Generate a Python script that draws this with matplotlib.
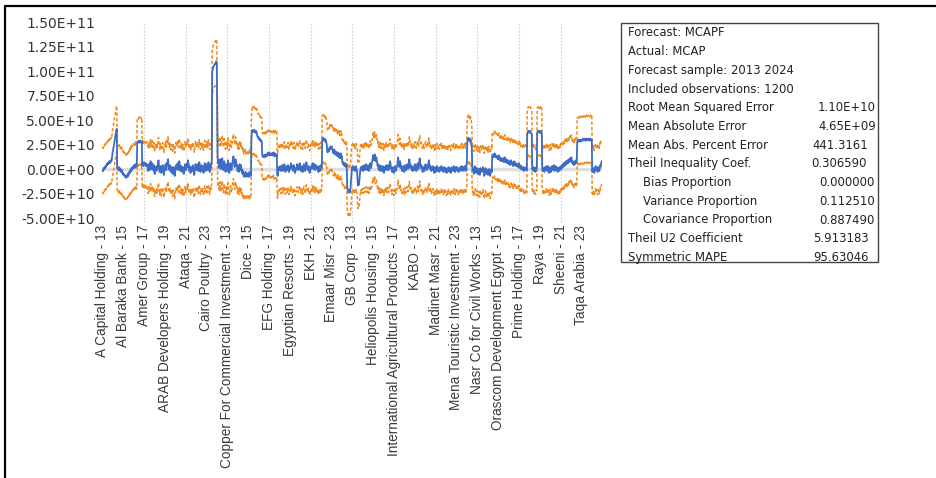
import numpy as np
import matplotlib
matplotlib.use("Agg")
import matplotlib.pyplot as plt
from matplotlib.lines import Line2D
from matplotlib.patches import Rectangle

# forecast MCAPF per company (12 yearly obs, 2013-2024), in billions
forecast_bn = [
    [-2, -1, -2, 0, 1, 0, 2, 1, 3, 2, 4, 5],
    [4, 6, 5, 7, 6, 8, 7, 6, 8, 9, 8, 10],
    [14, 17, 19, 22, 24, 27, 29, 32, 35, 37, 40, 41],
    [2, 0, 1, -1, 0, 2, -1, -2, 0, -3, -2, -1],
    [-3, -5, -4, -6, -5, -7, -6, -8, -7, -9, -8, -7],
    [-6, -8, -5, -4, -6, -3, -2, -4, -1, 0, -2, 1],
    [0, 2, 1, 3, 2, 4, 1, 3, 5, 2, 4, 3],
    [26, 27, 28, 27, 29, 28, 27, 28, 29, 28, 27, 28],
    [4, 6, 3, 5, 7, 4, 6, 5, 3, 6, 4, 5],
    [3, 1, -2, 2, 5, 1, -1, 3, 8, 4, 0, 2],
    [6, 3, -1, 1, 4, -3, -5, 0, 2, -2, 1, 3],
    [-1, 2, 5, 9, 4, 1, -3, 0, 3, -1, -4, -2],
    [1, 4, 2, -2, -6, -3, 0, 2, 5, 1, -1, 3],
    [7, 4, 10, 5, 2, -1, 1, 4, 0, -3, -1, 2],
    [-2, -5, -1, 2, 0, -4, -7, -3, 1, 4, 2, 0],
    [3, 6, 2, -1, 4, 8, 5, 1, -2, 0, 3, 1],
    [-3, 0, 2, -1, -5, -2, 1, 5, 2, -1, 1, 4],
    [6, 2, 9, 5, 1, -2, 3, 0, -4, -1, 2, 0],
    [-2, 1, 4, 0, -3, -6, -2, 2, 5, 3, 0, -1],
    [2, 5, 1, -2, 3, 7, 4, 0, -3, 1, 4, 2],
    [-1, 3, 0, -4, -2, 2, 6, 3, 0, -2, 1, 5],
    [2, -1, 4, 7, 3, 0, -3, 1, 5, 2, 6, 8],
    [100, 101, 103, 104, 105, 106, 107, 107, 108, 109, 110, 108],
    [53, 12, 6, 9, 3, 1, 5, 10, 4, 0, 3, 7],
    [11, 6, 2, -1, 3, 8, 4, 1, -3, 0, 5, 2],
    [-2, 3, 9, 5, 1, -4, -1, 2, 6, 3, -1, 1],
    [4, 8, 12, 13, 9, 5, 2, 6, 10, 7, 3, 5],
    [1, -2, 3, 0, -3, 2, 5, 1, -1, 4, 0, -3],
    [-1, -5, -2, -6, -8, -4, -7, -5, -3, -6, -8, -7],
    [-5, -7, -4, -6, -8, -6, -3, -5, -7, -6, 30, 37],
    [39, 38, 40, 39, 38, 40, 39, 37, 38, 39, 38, 37],
    [34, 33, 32, 33, 31, 30, 31, 29, 30, 28, 29, 28],
    [15, 13, 14, 12, 13, 14, 12, 13, 15, 13, 14, 13],
    [15, 16, 14, 17, 15, 14, 16, 15, 14, 16, 15, 14],
    [16, 14, 15, 17, 15, 13, 14, 16, 15, 14, 13, 15],
    [-5, -7, -3, 0, 2, -1, 1, 3, 0, -2, 1, 2],
    [4, 1, -2, 0, 3, 5, 2, -1, -3, 1, 3, 0],
    [-1, 2, 4, 1, -3, -1, 2, 0, 3, 6, 4, 1],
    [3, 0, -2, 1, 4, 2, -1, -4, -2, 1, 0, 2],
    [5, 3, 1, -1, 2, 4, 6, 3, 0, -2, 1, 3],
    [0, -3, -1, 2, 5, 2, 0, -2, 1, 4, 7, 4],
    [2, -1, 1, 3, 0, -2, -4, -1, 2, 0, 3, 1],
    [4, 6, 2, 0, 3, 5, 1, -1, 2, 4, 1, 3],
    [0, 2, -1, -3, 1, 3, 0, -2, 2, 4, 1, 2],
    [30, 31, 32, 31, 30, 29, 31, 30, 28, 29, 27, 25],
    [18, 17, 19, 20, 18, 21, 22, 20, 23, 22, 21, 23],
    [21, 19, 18, 16, 19, 20, 17, 15, 18, 16, 14, 17],
    [15, 13, 17, 14, 12, 16, 13, 11, 14, 16, 12, 13],
    [8, 6, 5, 7, 4, 5, 3, 6, 4, 2, 5, 3],
    [-18, -20, -22, -24, -23, -21, -24, -22, -20, -12, -6, -2],
    [2, 0, 3, 1, -1, 2, 0, -2, 1, 3, 0, -1],
    [-4, -12, -17, -15, -16, -13, -8, -3, 0, 2, -1, 1],
    [3, 0, -2, 1, 4, 2, -1, 1, 3, 5, 2, 0],
    [-1, 2, 4, 1, -2, 0, 3, 6, 4, 1, 3, 5],
    [8, 11, 14, 12, 9, 13, 15, 11, 8, 10, 12, 9],
    [6, 3, 5, 1, -1, 2, 4, 0, -2, 1, 3, 0],
    [-2, 1, 3, -1, -4, 0, 2, -1, 1, 4, 2, -1],
    [1, 4, 2, -1, 0, 3, 6, 8, 5, 2, 0, 1],
    [-3, 0, 2, -1, -4, -2, 1, 3, 0, -2, 1, 2],
    [4, 7, 12, 9, 5, 2, 4, 8, 5, 1, 3, 0],
    [-2, 1, -1, 3, 0, -3, 1, 4, 2, -1, 0, 2],
    [5, 3, 0, 2, 6, 10, 7, 3, 1, 4, 2, -1],
    [1, -2, 0, 3, 1, -1, 2, 5, 3, 0, -2, 1],
    [3, 6, 2, 0, 4, 7, 11, 6, 3, 1, 4, 2],
    [0, -3, -1, 2, 0, -2, 1, 3, 5, 2, 0, -1],
    [2, 4, 1, 6, 9, 5, 2, 0, 3, 1, -2, 0],
    [-1, 1, 3, 0, -2, -4, -1, 2, 0, -3, -1, 1],
    [3, 0, -2, 1, -1, -3, 0, 2, -1, 1, 3, 0],
    [-2, 1, 0, -3, -1, 2, 0, -2, 1, -1, -4, -2],
    [0, -3, -1, 2, 0, -2, 1, -1, -4, -2, 0, 2],
    [-1, 1, -2, 0, 3, 1, -1, -3, 0, 2, -1, 1],
    [2, -1, 0, -3, -1, 1, -2, 0, 2, -1, 1, 3],
    [0, -2, 1, -1, 2, 0, 3, 1, -2, 0, 4, 6],
    [26, 30, 31, 32, 30, 29, 31, 28, 30, 27, 25, 22],
    [4, -1, 1, -3, -5, -2, 0, 3, 1, -2, -4, -1],
    [1, -2, -5, -3, 0, -4, -6, -2, 1, -1, -3, 0],
    [-2, 0, 2, -1, -4, -7, -3, -1, 1, -2, -5, -3],
    [-1, -4, -6, -2, 0, -3, -5, -7, -4, -2, 0, -3],
    [13, 15, 14, 12, 13, 15, 16, 13, 12, 14, 13, 12],
    [11, 13, 10, 12, 14, 11, 9, 12, 10, 8, 11, 9],
    [10, 8, 11, 9, 7, 10, 12, 9, 7, 8, 10, 8],
    [6, 8, 9, 7, 5, 8, 6, 4, 7, 9, 6, 5],
    [7, 5, 3, 6, 8, 5, 4, 7, 6, 3, 5, 4],
    [3, 5, 2, 4, 6, 3, 1, 4, 2, 0, 3, 1],
    [1, -1, 0, 2, -2, 0, 1, -1, 0, 2, 0, -1],
    [36, 37, 38, 39, 38, 37, 38, 39, 38, 37, 36, 35],
    [1, -1, 0, 2, -2, 0, 1, -1, -3, 0, 2, 1],
    [37, 38, 39, 38, 39, 38, 37, 39, 38, 37, 38, 36],
    [2, 0, -2, 1, -1, -3, 0, 2, -1, 1, 3, 0],
    [-2, 1, 3, 0, -2, -4, -1, 2, 0, -3, -1, 1],
    [3, 0, -1, 2, 4, 1, -2, 0, 3, 1, -1, 2],
    [0, -3, -1, 1, -2, 0, 2, -1, 1, 3, 0, 2],
    [3, 5, 2, 4, 6, 3, 5, 7, 4, 6, 8, 5],
    [7, 9, 6, 8, 10, 7, 9, 11, 8, 10, 12, 9],
    [6, 8, 5, 7, 4, 6, 8, 5, 7, 9, 6, 8],
    [28, 29, 28, 30, 29, 28, 29, 30, 29, 28, 29, 30],
    [29, 30, 31, 30, 29, 30, 31, 30, 29, 30, 31, 30],
    [30, 29, 31, 30, 31, 30, 29, 30, 31, 30, 29, 30],
    [-2, 0, -3, 1, -1, -4, -2, 0, 3, 1, -1, 2],
    [0, -3, -1, 2, 0, -2, 1, 4, 2, 5, 7, 8],
]

# forecast standard error per company, in billions
se_bn = [
    11.6, 11.5, 11.8, 11.4, 11.5, 11.6, 11.5, 12.0, 11.5, 11.4,
    11.5, 11.6, 11.5, 11.4, 11.6, 11.5, 11.5, 11.4, 11.6, 11.5,
    11.5, 11.4, 11.3, 11.5, 11.6, 11.5, 11.4, 11.5, 11.6, 11.5,
    12.0, 12.0, 11.6, 11.5, 11.7, 11.5, 11.4, 11.5, 11.6, 11.5,
    11.5, 11.4, 11.5, 11.6, 11.8, 11.6, 11.5, 11.5, 11.4, 12.4,
    11.5, 11.6, 11.5, 11.4, 11.5, 11.6, 11.5, 11.4, 11.5, 11.6,
    11.5, 11.4, 11.5, 11.6, 11.5, 11.4, 11.5, 11.6, 11.5, 11.4,
    11.5, 11.6, 11.5, 11.6, 11.5, 11.4, 11.5, 11.6, 11.5, 11.4,
    11.5, 11.6, 11.5, 11.4, 11.5, 12.3, 11.5, 12.3, 11.5, 11.4,
    11.5, 11.6, 11.5, 11.4, 11.5, 12.0, 12.0, 12.0, 11.5, 11.6,
]

tick_obs = list(range(1, 1200, 50))
tick_labels = [
    "A Capital Holding - 13", "Al Baraka Bank - 15", "Amer Group - 17",
    "ARAB Developers Holding - 19", "Ataqa - 21", "Cairo Poultry - 23",
    "Copper For Commercial Investment - 13", "Dice - 15", "EFG Holding - 17",
    "Egyptian Resorts - 19", "EKH - 21", "Emaar Misr - 23", "GB Corp - 13",
    "Heliopolis Housing - 15", "International Agricultural Products - 17",
    "KABO - 19", "Madinet Masr - 21", "Mena Touristic Investment - 23",
    "Nasr Co for Civil Works - 13", "Orascom Development Egypt - 15",
    "Prime Holding - 17", "Raya - 19", "Sheeni - 21", "Taqa Arabia - 23",
]
ytick_vals = [-5e10, -2.5e10, 0, 2.5e10, 5e10, 7.5e10, 1e11, 1.25e11, 1.5e11]
ytick_labels = ["-5.00E+10", "-2.50E+10", "0.00E+00", "2.50E+10", "5.00E+10",
                "7.50E+10", "1.00E+11", "1.25E+11", "1.50E+11"]

stats_labels = [
    "Forecast: MCAPF", "Actual: MCAP", "Forecast sample: 2013 2024",
    "Included observations: 1200", "Root Mean Squared Error",
    "Mean Absolute Error", "Mean Abs. Percent Error", "Theil Inequality Coef.",
    "    Bias Proportion", "    Variance Proportion", "    Covariance Proportion",
    "Theil U2 Coefficient", "Symmetric MAPE",
]
stats_values = ["", "", "", "", "1.10E+10", "4.65E+09", "441.3161", "0.306590",
                "0.000000", "0.112510", "0.887490", "5.913183", "95.63046"]

W, H = 936, 478
f = np.array(forecast_bn, dtype=float).ravel() * 1e9
se = np.repeat(se_bn, 12) * 1e9
obs = np.arange(1, len(f) + 1)

fig = plt.figure(figsize=(W / 100, H / 100), dpi=100)
ax = fig.add_axes([102 / W, 1 - 222 / H, 500 / W, 200 / H])

for g in tick_obs[2::2]:
    ax.axvline(g, color="#cfcfcf", lw=0.8, ls=(0, (1.5, 1.5)), zorder=0)
ax.axhline(0, color="#dedede", lw=2.5, zorder=1)

ax.plot(obs, f + 2 * se, color="#F08A1C", lw=1.1, ls=(0, (2.2, 1.4)), zorder=2)
ax.plot(obs, f - 2 * se, color="#F08A1C", lw=1.1, ls=(0, (2.2, 1.4)), zorder=2)
ax.plot(obs, f, color="#3C6CC4", lw=1.3, zorder=3)

ax.set_xlim(0.5, 1200.5)
ax.set_ylim(-5.4e10, 1.5e11)
for s in ax.spines.values():
    s.set_visible(False)

ax.set_yticks(ytick_vals)
ax.set_yticklabels(ytick_labels, family="DejaVu Sans", fontsize=10, color="#333333")
ax.set_xticks(tick_obs)
ax.set_xticklabels(tick_labels, rotation=90, family="Liberation Sans",
                   fontsize=9.8, color="#3a3a3a")
ax.tick_params(axis="y", length=0, pad=5)
ax.tick_params(axis="x", length=0, pad=2)

# stats box
fig.patches.append(Rectangle((621 / W, 1 - 262 / H), 257 / W, 239 / H,
                             transform=fig.transFigure, fill=False,
                             edgecolor="#444444", lw=1.0))
val_right = [0, 0, 0, 0, 876, 876, 868, 867, 875, 875, 875, 869, 869]
for i, (lab, val) in enumerate(zip(stats_labels, stats_values)):
    y = 1 - (33 + 18.7 * i) / H
    fig.text(628 / W, y, lab, ha="left", va="center", family="DejaVu Sans",
             fontsize=8.4, color="#222222")
    if val:
        fig.text(val_right[i] / W, y, val, ha="right", va="center",
                 family="DejaVu Sans", fontsize=8.4, color="#222222")

# outer frame
fig.lines.append(Line2D([5 / W, 5 / W, 1.0], [0.0, 1 - 6 / H, 1 - 6 / H],
                        transform=fig.transFigure, color="black", lw=1.6))

fig.savefig("out.png", dpi=100, facecolor="white")
